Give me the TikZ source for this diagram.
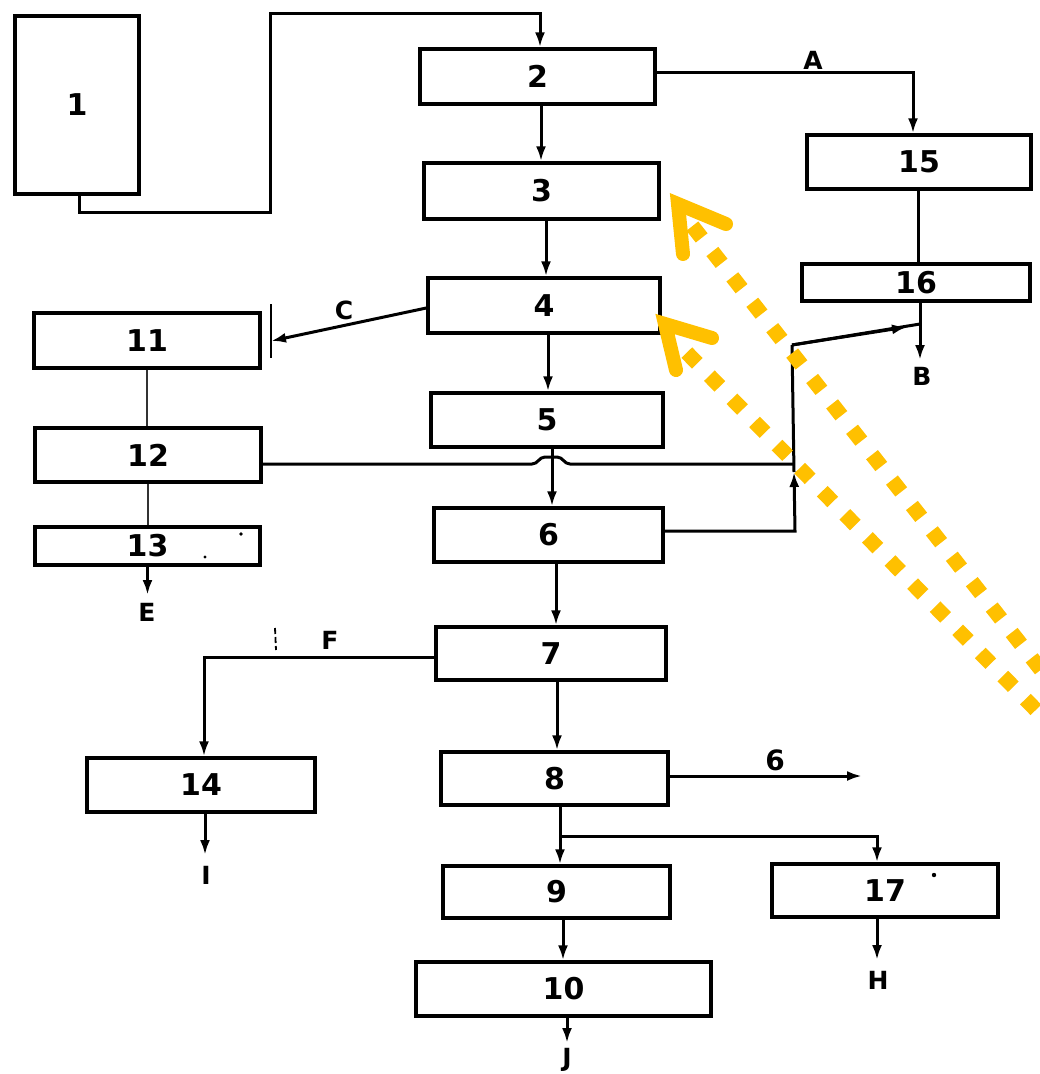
\documentclass[tikz,border=0pt]{standalone}
\usepackage{fontspec}
\newfontfamily\lblfont{DejaVu Sans}
\usetikzlibrary{arrows.meta}
\definecolor{annot}{RGB}{255,192,0}
\begin{document}
\begin{tikzpicture}[x=1pt,y=-1pt,
  box/.style={draw=black,line width=3.4pt,rectangle,inner sep=0pt,font=\lblfont\bfseries\fontsize{30}{33}\selectfont},
  lbl/.style={inner sep=0pt,font=\lblfont\bfseries\fontsize{25}{28}\selectfont},
  conn/.style={draw=black,line width=3pt},
  arr/.style={conn,-{Latex[length=15pt,width=10pt]}},
  faint/.style={draw=black!80,line width=2.2pt},
  dotline/.style={draw=annot,line width=15pt,dash pattern=on 15pt off 17.3pt},
  chevron/.style={draw=annot,line width=14pt,line cap=round,line join=miter}]
\useasboundingbox (0,0) rectangle (1040,1074);
\fill[white] (0,0) rectangle (1040,1074);

% boxes
\node[box,minimum width=124pt,minimum height=178pt] (b1) at (77,105) {\raisebox{-10pt}{1}};
\node[box,minimum width=235pt,minimum height=55pt] (b2) at (537.5,76.5) {2};
\node[box,minimum width=235pt,minimum height=56pt] (b3) at (541.5,191) {3};
\node[box,minimum width=232pt,minimum height=55pt] (b4) at (544,305.5) {4};
\node[box,minimum width=232pt,minimum height=54pt] (b5) at (547,420) {5};
\node[box,minimum width=229pt,minimum height=54pt] (b6) at (548.5,535) {6};
\node[box,minimum width=230pt,minimum height=53pt] (b7) at (551,653.5) {7};
\node[box,minimum width=227pt,minimum height=53pt] (b8) at (554.5,778.5) {8};
\node[box,minimum width=227pt,minimum height=52pt] (b9) at (556.5,892) {9};
\node[box,minimum width=295pt,minimum height=54pt] (b10) at (563.5,989) {10};
\node[box,minimum width=226pt,minimum height=55pt] (b11) at (147,340.5) {11};
\node[box,minimum width=226pt,minimum height=54pt] (b12) at (148,455) {12};
\node[box,minimum width=225pt,minimum height=38pt] (b13) at (147.5,546) {13};
\node[box,minimum width=228pt,minimum height=54pt] (b14) at (201,785) {14};
\node[box,minimum width=224pt,minimum height=54pt] (b15) at (919,162) {15};
\node[box,minimum width=228pt,minimum height=37pt] (b16) at (916,282.5) {16};
\node[box,minimum width=226pt,minimum height=53pt] (b17) at (885,890.5) {17};

% labels
\node[lbl] (lA) at (813,60) {A};
\node[lbl] (lB) at (922,376) {B};
\node[lbl] (lC) at (344,310) {C};
\node[lbl] (lE) at (147,612) {E};
\node[lbl] (lF) at (330,640) {F};
\node[lbl] (lI) at (206,875) {I};
\node[lbl,font=\lblfont\bfseries\fontsize{28}{30}\selectfont] (l6) at (775,760) {6};
\node[lbl] (lJ) at (567,1060) {J};
\node[lbl] (lH) at (878,980) {H};

% coordinates
\coordinate (p1) at (79,212);
\coordinate (p2) at (270,212);
\coordinate (p3) at (270,13);
\coordinate (p4) at (540,13);
\coordinate (pA) at (913,72);
\coordinate (p15) at (918,0);
\coordinate (pj) at (920,324);
\coordinate (pB) at (920,360);
\coordinate (q1) at (795,531);
\coordinate (q3) at (794,472);
\coordinate (q2) at (792,345);
\coordinate (q4) at (907,327);
\coordinate (r1) at (532,464);
\coordinate (r2) at (570,464);
\coordinate (r3) at (794,464);
\coordinate (c1) at (428,308);
\coordinate (c2) at (271,341);
\coordinate (eE) at (147.5,595);
\coordinate (f1) at (204,657);
\coordinate (eI) at (205,855);
\coordinate (e6) at (862,776);
\coordinate (k) at (560,836);
\coordinate (k2) at (877,836);
\coordinate (x23) at (541,0);
\coordinate (x34) at (546,0);
\coordinate (x45) at (548,0);
\coordinate (x56) at (552,0);
\coordinate (x67) at (556,0);
\coordinate (x78) at (557,0);
\coordinate (x910) at (563,0);
\coordinate (eJ) at (567,1043);
\coordinate (eH) at (877,960);

% connectors, main column
\draw[arr] (b1.south -| p1) -- (p1) -- (p2) -- (p3) -- (p4) -- (p4 |- b2.north);
\draw[arr] (b2.south -| x23) -- (b3.north -| x23);
\draw[arr] (b3.south -| x34) -- (b4.north -| x34);
\draw[arr] (b4.south -| x45) -- (b5.north -| x45);
\draw[arr] (b5.south -| x56) -- (b6.north -| x56);
\draw[arr] (b6.south -| x67) -- (b7.north -| x67);
\draw[arr] (b7.south -| x78) -- (b8.north -| x78);
\draw[conn] (b8.south -| k) -- (k);
\draw[arr] (k) -- (k |- b9.north);
\draw[arr] (k) -- (k2) -- (k2 |- b17.north);
\draw[arr] (b9.south -| x910) -- (b10.north -| x910);
\draw[arr] (b10.south -| eJ) -- (eJ);
\draw[arr] (b17.south -| eH) -- (eH);
\draw[arr] (b8.east |- e6) -- (e6);

% A branch
\draw[arr] (b2.east |- pA) -- (pA) -- (pA |- b15.north);
\draw[conn] (b15.south -| p15) -- (b16.north -| p15);
\draw[conn] (b16.south -| pj) -- (pj);
\draw[arr] (pj) -- (pB);

% return from 6 up to junction
\draw[arr] (b6.east |- q1) -- (q1) -- (q3);
\draw[conn] (q3) -- (q2);
\draw[conn] (q2) -- (pj);
\draw[arr] (q2) -- (q4);

% line from 12 with bump over 5->6
\draw[conn] (b12.east |- r1) -- (r1)
  .. controls (538,464) and (539,457) .. (545,457) -- (557,457)
  .. controls (563,457) and (564,464) .. (r2) -- (r3);

% C branch
\draw[arr] (b4.west |- c1) -- (c2);
\draw[black,line width=1.8pt] (271,304) -- (271,358);

% left column
\draw[faint] (b11.south) -- (b11.south |- b12.north);
\draw[faint] (b12.south) -- (b12.south |- b13.north);
\draw[arr] (b13.south -| eE) -- (eE);

% F branch
\draw[arr] (b7.west |- f1) -- (f1) -- (f1 |- b14.north);
\draw[black,line width=1.8pt,dash pattern=on 6pt off 3pt] (275,628) -- (276,650);
\draw[arr] (b14.south -| eI) -- (eI);

% specks
\fill[black] (241,534) circle (1.8pt);
\fill[black] (205,557) circle (1.6pt);
\fill[black] (934,875) circle (2.2pt);

% orange annotation arrows
\begin{scope}
\clip (0,0) rectangle (1040,1074);
\draw[dotline] (692.4,226.1) -- (1060,694);
\draw[dotline] (686.8,352.6) -- (1060,734.5);
\draw[chevron] (683,254) -- (678,204) -- (726,224);
\draw[chevron] (676,370) -- (665,324) -- (712,338);
\end{scope}
\end{tikzpicture}
\end{document}
